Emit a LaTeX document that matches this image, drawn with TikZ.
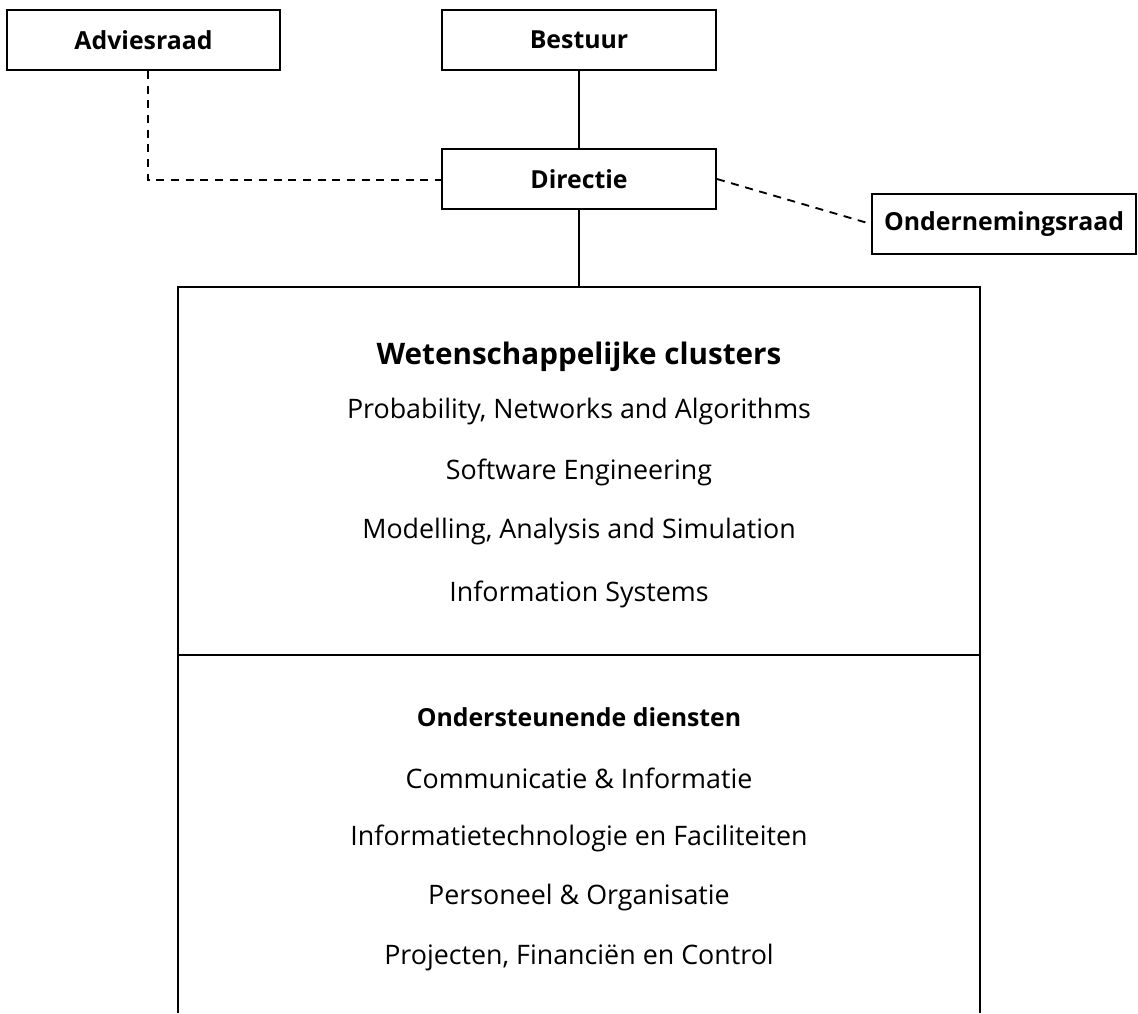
\documentclass[tikz,border=0pt]{standalone}
\usepackage{fontspec}
\setmainfont{Open Sans}
\usepackage{tikz}
\usetikzlibrary{shapes}

\begin{document}
\begin{tikzpicture}[x=0.75bp, y=-0.75bp, line width=1.4bp]
      \tikzstyle{every node}=[font=\fontsize{20.2}{24}\selectfont]
      \tikzstyle{orgbox}=[draw, line width=1.4bp, minimum height=45bp, inner sep=0pt, font=\fontsize{18.7}{22}\selectfont\bfseries]
      \tikzstyle{advice}=[dash pattern=on 6bp off 5bp]
      \useasboundingbox (0,0) rectangle (1138,1013);

%%
\node (adv) at (143.5,40) [orgbox, minimum width=204.75bp] {Adviesraad};
  \node (bst) at (579,40) [orgbox, minimum width=205.5bp] {Bestuur};
  \node (dir) at (579,179) [orgbox, minimum width=205.5bp] {Directie};
  \node (or) at (1004,224) [orgbox, minimum width=198bp] {Ondernemingsraad};
  \coordinate (clTop) at (579,287);
  \coordinate (advBend) at (148,180);
  \node (wc) at (579,357) [font=\fontsize{22.3}{26}\selectfont\bfseries] {Wetenschappelijke clusters};
  \node (pna) at (579,412) {Probability, Networks and Algorithms};
  \node (se) at (579,472) {Software Engineering};
  \node (mas) at (579,532) {Modelling, Analysis and Simulation};
  \node (is) at (579,594) {Information Systems};
  \node (od) at (579,717) [font=\fontsize{18.7}{22}\selectfont\bfseries] {Ondersteunende diensten};
  \node (ci) at (579,778) {Communicatie \& Informatie};
  \node (itf) at (579,838) {Informatietechnologie en Faciliteiten};
  \node (po) at (579,898) {Personeel \& Organisatie};
  \node (pfc) at (579,958) {Projecten, Financiën en Control};
  \draw (178,1013) -- (178,287) -- (980,287) -- (980,1013);
  \draw (178,655) -- (980,655);
  \draw (bst) -- (dir);
  \draw (dir) -- (clTop);
  \draw [advice] (adv.south -| advBend) -- (advBend) -- (dir.west |- advBend);
  \draw [advice] (dir.east) -- (or.west);
%

    \end{tikzpicture}
\end{document}
